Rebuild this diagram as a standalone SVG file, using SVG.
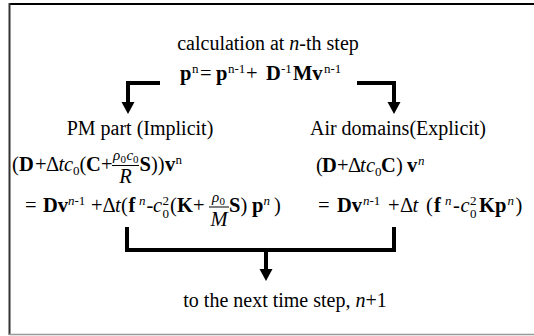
<svg xmlns="http://www.w3.org/2000/svg" width="534" height="336" viewBox="0 0 534 336">
<style>
text{font-family:"Liberation Serif","Times New Roman",serif;font-size:20px;fill:#000}
.e{font-size:20.5px}
.b{font-weight:bold}
.i{font-style:italic}
.s{font-size:13px}
.ss{font-size:11px}
.f{font-size:15px}
.ln{stroke:#000;stroke-width:4;fill:none}
.bar{stroke:#000;stroke-width:1}
.ah{fill:#000}
</style>
<rect width="534" height="336" fill="#fff"/>
<g id="frame">
<line x1="9" y1="4" x2="534" y2="4" stroke="#000" stroke-width="2"/>
<line x1="9.5" y1="3" x2="9.5" y2="335" stroke="#333" stroke-width="2"/>
<line x1="9" y1="334.5" x2="534" y2="334.5" stroke="#999" stroke-width="1.5"/>
</g>
<g id="title"><text x="268" y="50" text-anchor="middle">calculation at <tspan class="i">n</tspan>-th step</text></g>
<g id="pupdate"><text class="e" y="80"><tspan x="180" class="b">p</tspan><tspan x="192" y="73" class="s">n</tspan><tspan x="200" y="80">=</tspan><tspan x="216" class="b">p</tspan><tspan x="228" y="73" class="s">n-1</tspan><tspan x="246" y="80">+</tspan><tspan x="266" class="b">D</tspan><tspan x="281" y="73" class="s">-1</tspan><tspan x="293" y="80" class="b">Mv</tspan><tspan x="324" y="73" class="s">n-1</tspan></text></g>
<g id="pm">
<text x="140" y="135" text-anchor="middle">PM part (Implicit)</text>
<text class="e" y="171"><tspan x="12">(</tspan><tspan x="19" class="b">D</tspan><tspan x="35">+</tspan><tspan x="46">Δ</tspan><tspan x="58.5" class="i">t</tspan><tspan x="64" class="i">c</tspan><tspan x="73" y="175" class="s">0</tspan><tspan x="79.5" y="171">(</tspan><tspan x="86" class="b">C</tspan><tspan x="101">+</tspan></text>
<text class="f" y="160"><tspan x="113" class="i">ρ</tspan><tspan x="120.5" y="163" class="ss">0</tspan><tspan x="126.5" y="160" class="i">c</tspan><tspan x="133" y="163" class="ss">0</tspan></text>
<line class="bar" x1="112" y1="165.5" x2="139" y2="165.5"/>
<text class="e i" x="125.5" y="183" text-anchor="middle">R</text>
<text class="e" y="171"><tspan x="139.5" class="b">S</tspan><tspan x="151">))</tspan><tspan x="165" class="b">v</tspan><tspan x="175.5" y="164" class="s">n</tspan></text>
<text class="e" y="212"><tspan x="25">=</tspan><tspan x="43" class="b">Dv</tspan><tspan x="68" y="205" class="s"><tspan class="i">n</tspan>-1</tspan><tspan x="91" y="212">+</tspan><tspan x="102.5">Δ</tspan><tspan x="115" class="i">t</tspan><tspan x="121">(</tspan><tspan x="128.5" class="b">f</tspan><tspan x="139" y="205" class="s i">n</tspan><tspan x="146.5" y="212">-</tspan><tspan x="153" class="i">c</tspan><tspan x="162.5" y="205" class="s">2</tspan><tspan x="162.5" y="218" class="s">0</tspan><tspan x="170" y="212">(</tspan><tspan x="177" class="b">K</tspan><tspan x="193">+</tspan></text>
<text class="f" y="202"><tspan x="212" class="i">ρ</tspan><tspan x="219.5" y="205" class="ss">0</tspan></text>
<line class="bar" x1="209" y1="207" x2="229" y2="207"/>
<text class="e i" x="219" y="226" text-anchor="middle">M</text>
<text class="e" y="212"><tspan x="229" class="b">S</tspan><tspan x="240.5">)</tspan><tspan x="252" class="b">p</tspan><tspan x="263.5" y="205" class="s i">n</tspan><tspan x="274" y="212">)</tspan></text>
</g>
<g id="air">
<text x="398" y="135" text-anchor="middle">Air domains(Explicit)</text>
<text class="e" y="172"><tspan x="316">(</tspan><tspan x="322" class="b">D</tspan><tspan x="337">+</tspan><tspan x="348">Δ</tspan><tspan x="360" class="i">t</tspan><tspan x="366" class="i">c</tspan><tspan x="375" y="176" class="s">0</tspan><tspan x="381" y="172" class="b">C</tspan><tspan x="396">)</tspan><tspan x="407" class="b">v</tspan><tspan x="418" y="165" class="s i">n</tspan></text>
<text class="e" y="212"><tspan x="318">=</tspan><tspan x="337" class="b">Dv</tspan><tspan x="363" y="205" class="s"><tspan class="i">n</tspan>-1</tspan><tspan x="388" y="212">+</tspan><tspan x="400">Δ</tspan><tspan x="412.5" class="i">t</tspan><tspan x="426">(</tspan><tspan x="434" class="b">f</tspan><tspan x="445" y="205" class="s i">n</tspan><tspan x="453" y="212">-</tspan><tspan x="460.5" class="i">c</tspan><tspan x="470" y="205" class="s">2</tspan><tspan x="470" y="218" class="s">0</tspan><tspan x="479" y="212" class="b">Kp</tspan><tspan x="507.5" y="205" class="s i">n</tspan><tspan x="515.5" y="212">)</tspan></text>
</g>
<g id="next"><text x="285" y="307" text-anchor="middle">to the next time step, <tspan class="i">n</tspan>+1</text></g>
<g id="connectors">
<path class="ln" d="M160,83 H128 V103"/>
<polygon class="ah" points="121.5,102 134.5,102 128,114"/>
<path class="ln" d="M357,83 H394 V103"/>
<polygon class="ah" points="387.5,102 400.5,102 394,114"/>
<path class="ln" d="M127,227 V250 H394 V227"/>
<path class="ln" d="M266,250 V270"/>
<polygon class="ah" points="259.5,269 272.5,269 266,281"/>
</g>
</svg>
